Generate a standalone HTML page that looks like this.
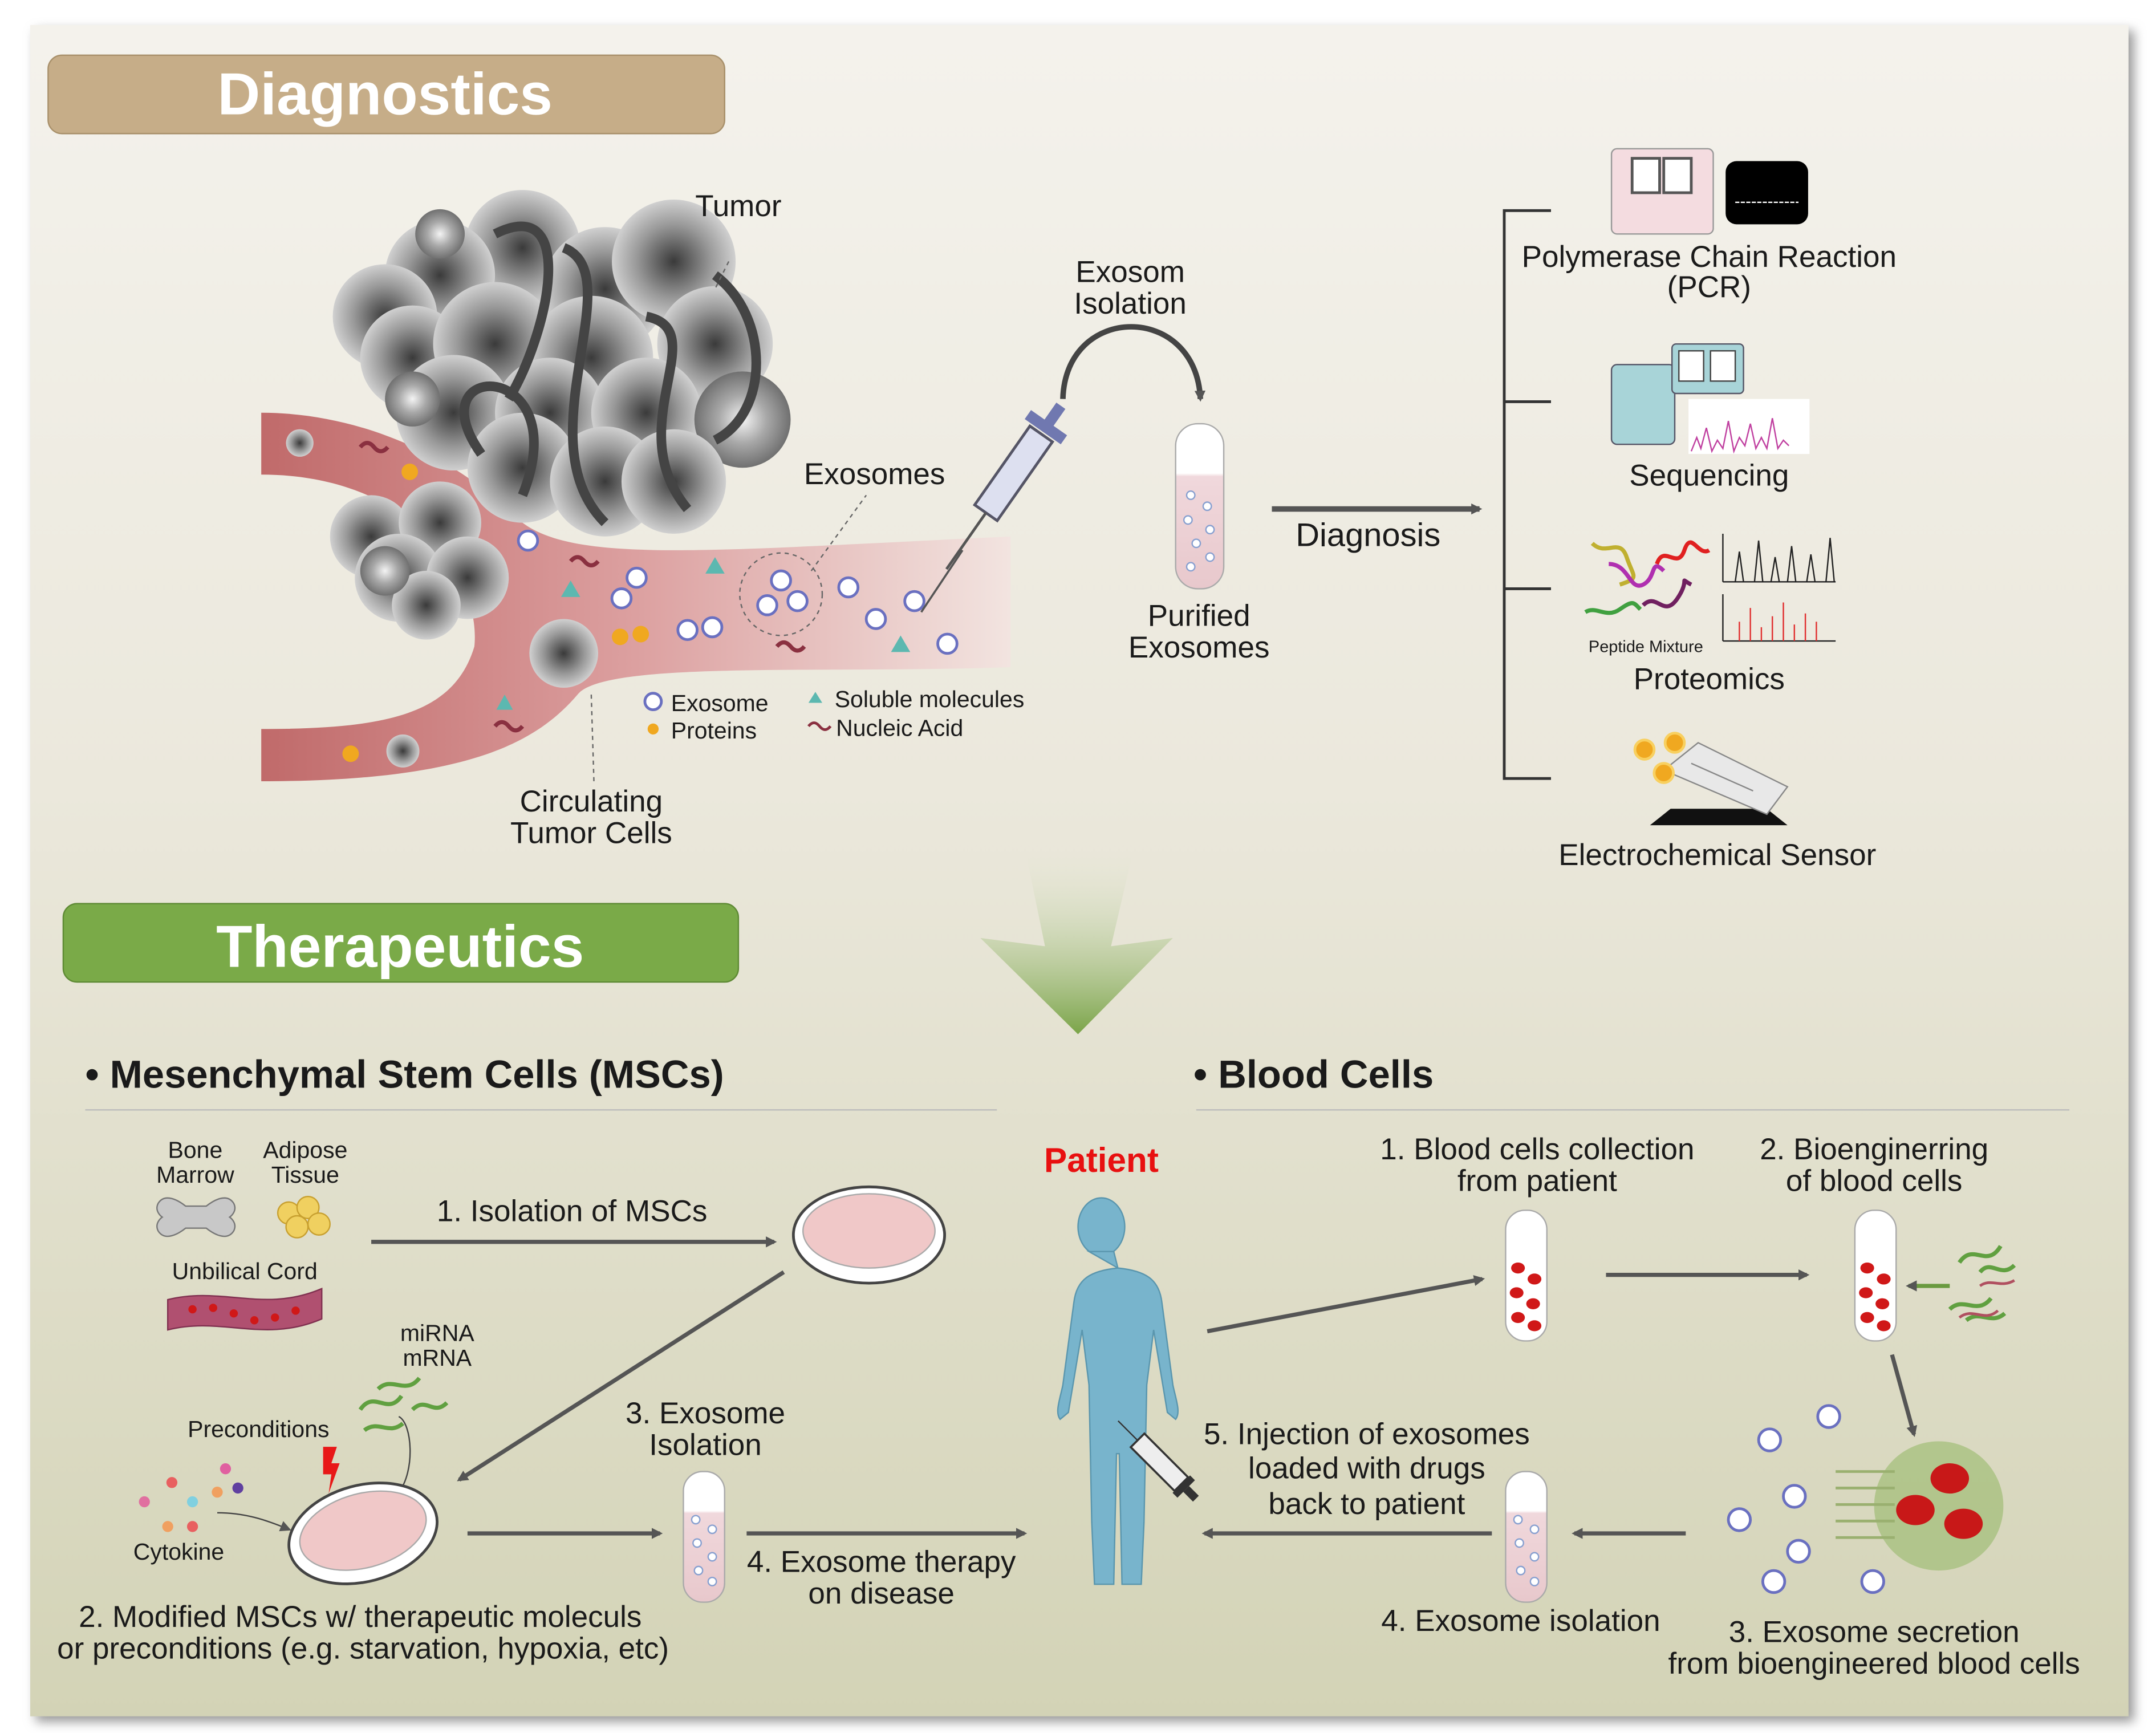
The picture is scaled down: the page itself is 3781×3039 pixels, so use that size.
<!DOCTYPE html>
<html><head><meta charset="utf-8"><style>
html,body{margin:0;padding:0;background:#fff;}
svg{display:block;}
text{font-family:"Liberation Sans",Arial,sans-serif;fill:#1a1a1a;}
</style></head><body>
<svg xmlns="http://www.w3.org/2000/svg" width="3781" height="3039" viewBox="0 0 1568 1260">
<defs>
<linearGradient id="bg" x1="0" y1="0" x2="0" y2="1">
<stop offset="0" stop-color="#f4f2ec"/><stop offset="0.45" stop-color="#ebe8dc"/><stop offset="1" stop-color="#d3d3b6"/></linearGradient>
<radialGradient id="cell" cx="0.5" cy="0.5" r="0.5"><stop offset="0" stop-color="#3a3a3a"/><stop offset="0.6" stop-color="#999"/><stop offset="1" stop-color="#d0d0d0"/></radialGradient>
<radialGradient id="cell2" cx="0.5" cy="0.5" r="0.5"><stop offset="0" stop-color="#f4f4f4"/><stop offset="0.5" stop-color="#a8a8a8"/><stop offset="1" stop-color="#707070"/></radialGradient>
<linearGradient id="vessel" x1="0" y1="0" x2="1" y2="0"><stop offset="0" stop-color="#c06a6a"/><stop offset="0.5" stop-color="#dca0a0"/><stop offset="1" stop-color="#f2e4e0"/></linearGradient>
<linearGradient id="garrow" x1="0" y1="0" x2="0" y2="1"><stop offset="0" stop-color="#e6ead8" stop-opacity="0"/><stop offset="1" stop-color="#7aa448"/></linearGradient>
<linearGradient id="tube" x1="0" y1="0" x2="0" y2="1"><stop offset="0" stop-color="#fff"/><stop offset="0.3" stop-color="#fff"/><stop offset="0.32" stop-color="#f0d8dc"/><stop offset="1" stop-color="#e8c8cc"/></linearGradient>
<marker id="ah" markerWidth="8" markerHeight="8" refX="6" refY="4" orient="auto" markerUnits="userSpaceOnUse"><path d="M0,0 L8,4 L0,8 z" fill="#555"/></marker>
<filter id="sh" x="-5%" y="-5%" width="110%" height="110%"><feGaussianBlur stdDeviation="4"/></filter>
</defs>
<rect x="0" y="0" width="1568" height="1260" fill="#fff"/>
<rect x="26" y="22" width="1526" height="1230" fill="#999" filter="url(#sh)"/>
<rect x="22" y="18" width="1526" height="1230" fill="url(#bg)"/>

<rect x="35" y="40" width="492" height="57" rx="10" fill="#c6ad88" stroke="#a8906a"/>
<text x="280" y="83" font-size="43" font-weight="bold" text-anchor="middle" style="fill:#fff">Diagnostics</text>
<rect x="46" y="657" width="491" height="57" rx="10" fill="#7aaa48" stroke="#5e8a34"/>
<text x="291" y="703" font-size="43" font-weight="bold" text-anchor="middle" style="fill:#fff">Therapeutics</text>

<path d="M190,300 C260,300 330,330 380,380 C420,410 520,400 735,390 L735,485 C600,490 440,480 420,505 C390,540 340,568 190,568 L190,530 C280,530 330,520 345,470 C350,420 300,345 190,345 Z" fill="url(#vessel)"/>
<g>
<circle cx="380" cy="180" r="42" fill="url(#cell)"/><circle cx="320" cy="200" r="40" fill="url(#cell)"/><circle cx="280" cy="230" r="38" fill="url(#cell)"/>
<circle cx="440" cy="210" r="45" fill="url(#cell)"/><circle cx="490" cy="190" r="45" fill="url(#cell)"/><circle cx="520" cy="250" r="42" fill="url(#cell)"/>
<circle cx="300" cy="260" r="38" fill="url(#cell)"/><circle cx="360" cy="250" r="45" fill="url(#cell)"/><circle cx="430" cy="260" r="45" fill="url(#cell)"/>
<circle cx="330" cy="300" r="42" fill="url(#cell)"/><circle cx="400" cy="300" r="40" fill="url(#cell)"/><circle cx="470" cy="300" r="40" fill="url(#cell)"/>
<circle cx="540" cy="305" r="35" fill="url(#cell2)"/><circle cx="380" cy="340" r="40" fill="url(#cell)"/><circle cx="440" cy="350" r="40" fill="url(#cell)"/>
<circle cx="490" cy="350" r="38" fill="url(#cell)"/><circle cx="320" cy="170" r="18" fill="url(#cell2)"/><circle cx="300" cy="290" r="20" fill="url(#cell2)"/>
<circle cx="270" cy="390" r="30" fill="url(#cell)"/><circle cx="320" cy="380" r="30" fill="url(#cell)"/><circle cx="290" cy="420" r="32" fill="url(#cell)"/>
<circle cx="340" cy="420" r="30" fill="url(#cell)"/><circle cx="310" cy="440" r="25" fill="url(#cell)"/><circle cx="280" cy="415" r="18" fill="url(#cell2)"/>
<path d="M360,170 C420,140 400,240 370,290 M410,180 C460,200 380,320 440,380 M470,230 C520,240 450,310 500,370 M520,200 C560,230 560,300 520,320 M350,330 C300,260 420,260 380,360" fill="none" stroke="#444" stroke-width="7"/>
<circle cx="410" cy="475" r="25" fill="url(#cell)"/><circle cx="218" cy="322" r="10" fill="url(#cell)"/><circle cx="293" cy="546" r="12" fill="url(#cell)"/>
</g>
<g fill="#f0a820"><circle cx="298" cy="343" r="6"/><circle cx="451" cy="463" r="6"/><circle cx="466" cy="461" r="6"/><circle cx="255" cy="548" r="6"/></g>
<g fill="#5cb8b0"><path d="M520,405 l7,12 h-14z"/><path d="M415,422 l7,12 h-14z"/><path d="M655,462 l7,12 h-14z"/><path d="M367,505 l6,11 h-12z"/></g>
<g fill="none" stroke="#8a3040" stroke-width="3"><path d="M262,325 q5,-6 10,0 t10,0"/><path d="M415,408 q5,-6 10,0 t10,0"/><path d="M565,470 q5,-6 10,0 t10,0"/><path d="M360,528 q5,-6 10,0 t10,0"/></g>
<g fill="#fff" stroke="#6a70c0" stroke-width="2"><circle cx="384" cy="393" r="7"/><circle cx="463" cy="420" r="7"/><circle cx="452" cy="435" r="7"/><circle cx="500" cy="458" r="7"/><circle cx="518" cy="456" r="7"/><circle cx="568" cy="422" r="7"/><circle cx="558" cy="440" r="7"/><circle cx="580" cy="437" r="7"/><circle cx="617" cy="427" r="7"/><circle cx="637" cy="450" r="7"/><circle cx="665" cy="437" r="7"/><circle cx="689" cy="468" r="7"/></g>
<circle cx="568" cy="432" r="30" fill="none" stroke="#666" stroke-dasharray="3,3"/>
<path d="M590,415 L630,360 M530,190 L520,210 M430,505 L432,570" stroke="#666" stroke-dasharray="3,3" fill="none"/>
<text x="537" y="157" font-size="22" text-anchor="middle">Tumor</text>
<text x="636" y="352" font-size="22" text-anchor="middle">Exosomes</text>
<text x="430" y="590" font-size="22" text-anchor="middle">Circulating</text>
<text x="430" y="613" font-size="22" text-anchor="middle">Tumor Cells</text>
<circle cx="475" cy="510" r="6" fill="#fff" stroke="#6a70c0" stroke-width="2"/>
<text x="488" y="517" font-size="17">Exosome</text>
<circle cx="475" cy="530" r="4" fill="#f0a820"/><text x="488" y="537" font-size="17">Proteins</text>
<path d="M593,503 l5,8 h-10z" fill="#5cb8b0"/><text x="607" y="514" font-size="17">Soluble molecules</text>
<path d="M588,528 q4,-5 8,0 t8,0" stroke="#8a3040" stroke-width="2" fill="none"/><text x="608" y="535" font-size="17">Nucleic Acid</text>
<g transform="rotate(35 740 340)"><rect x="730" y="310" width="20" height="70" fill="#dde0f0" stroke="#556" stroke-width="2"/><rect x="724" y="300" width="32" height="8" fill="#7078b0"/><rect x="736" y="285" width="8" height="18" fill="#7078b0"/><line x1="740" y1="380" x2="740" y2="430" stroke="#555" stroke-width="2"/></g>
<path d="M670,445 L700,400" stroke="#555" stroke-width="1.5"/>
<path d="M773,290 C775,220 870,220 873,290" fill="none" stroke="#444" stroke-width="4" marker-end="url(#ah)"/>
<text x="822" y="205" font-size="22" text-anchor="middle">Exosom</text>
<text x="822" y="228" font-size="22" text-anchor="middle">Isolation</text>
<rect x="855" y="308" width="35" height="120" rx="16" fill="url(#tube)" stroke="#aaa"/>
<g fill="#fff" stroke="#88a0d0"><circle cx="866" cy="360" r="3"/><circle cx="878" cy="368" r="3"/><circle cx="864" cy="378" r="3"/><circle cx="880" cy="385" r="3"/><circle cx="870" cy="395" r="3"/><circle cx="880" cy="405" r="3"/><circle cx="866" cy="412" r="3"/></g>
<text x="872" y="455" font-size="22" text-anchor="middle">Purified</text>
<text x="872" y="478" font-size="22" text-anchor="middle">Exosomes</text>
<line x1="925" y1="370" x2="1076" y2="370" stroke="#555" stroke-width="4" marker-end="url(#ah)"/>
<text x="995" y="397" font-size="24" text-anchor="middle">Diagnosis</text>
<path d="M1128,153 H1094 V566 H1128 M1094,292 H1128 M1094,428 H1128" fill="none" stroke="#333" stroke-width="2"/>
<rect x="1172" y="108" width="74" height="62" rx="4" fill="#f4dce0" stroke="#999"/><rect x="1187" y="115" width="20" height="25" fill="#fff" stroke="#555" stroke-width="2"/><rect x="1210" y="115" width="20" height="25" fill="#fff" stroke="#555" stroke-width="2"/>
<rect x="1255" y="117" width="60" height="46" rx="8" fill="#000"/><line x1="1262" y1="147" x2="1308" y2="147" stroke="#fff" stroke-dasharray="3,1"/>
<text x="1243" y="194" font-size="22" text-anchor="middle">Polymerase Chain Reaction</text>
<text x="1243" y="216" font-size="22" text-anchor="middle">(PCR)</text>
<rect x="1172" y="265" width="46" height="58" rx="4" fill="#a8d4d8" stroke="#556"/><rect x="1216" y="250" width="52" height="36" rx="3" fill="#a8d4d8" stroke="#556"/><rect x="1221" y="255" width="18" height="22" fill="#fff" stroke="#444"/><rect x="1244" y="255" width="18" height="22" fill="#fff" stroke="#444"/>
<rect x="1228" y="290" width="88" height="40" fill="#fff"/><path d="M1230,328 l4,-10 l3,8 l4,-15 l4,17 l4,-8 l4,6 l4,-20 l4,22 l4,-10 l4,6 l4,-16 l4,18 l4,-8 l4,8 l4,-22 l4,22 l4,-6 l4,4" stroke="#c040a0" fill="none" stroke-width="1"/>
<text x="1243" y="353" font-size="22" text-anchor="middle">Sequencing</text>
<path d="M1158,395 c10,10 20,-5 25,10 s10,15 -5,20" stroke="#c0b030" stroke-width="3" fill="none"/><path d="M1170,410 c15,0 15,20 25,15 s5,-20 15,-10" stroke="#b030b0" stroke-width="3" fill="none"/><path d="M1205,410 c5,-15 15,5 20,-10 s10,5 18,0" stroke="#e02020" stroke-width="3" fill="none"/><path d="M1195,440 c10,-10 15,10 25,-5 s0,-15 10,-10" stroke="#702060" stroke-width="3" fill="none"/><path d="M1153,445 c8,-5 15,5 25,-2 s10,-5 15,0" stroke="#40a040" stroke-width="3" fill="none"/>
<text x="1197" y="474" font-size="12" text-anchor="middle">Peptide Mixture</text>
<path d="M1253,423 H1335 M1253,423 V388" stroke="#222" fill="none"/><path d="M1262,423 l3,-22 l3,22 m8,0 l3,-30 l3,30 m6,0 l3,-18 l3,18 m6,0 l3,-26 l3,26 m8,0 l3,-20 l3,20 m8,0 l3,-32 l3,32" stroke="#222" fill="none"/>
<path d="M1253,466 H1335 M1253,466 V432" stroke="#222" fill="none"/><path d="M1265,466 v-14 m8,14 v-24 m8,24 v-10 m8,10 v-18 m8,18 v-28 m8,28 v-12 m8,12 v-20 m8,20 v-14" stroke="#e03030" fill="none"/>
<text x="1243" y="501" font-size="22" text-anchor="middle">Proteomics</text>
<path d="M1200,600 L1300,600 L1285,588 L1215,588 Z" fill="#111"/><path d="M1210,560 L1235,540 L1300,572 L1285,592 Z" fill="#e8e8e8" stroke="#888"/><line x1="1230" y1="555" x2="1275" y2="575" stroke="#888"/>
<g fill="#f0a820" stroke="#f8d060" stroke-width="2"><circle cx="1196" cy="545" r="7"/><circle cx="1218" cy="540" r="7"/><circle cx="1210" cy="562" r="7"/></g>
<text x="1249" y="629" font-size="22" text-anchor="middle">Electrochemical Sensor</text>

<path d="M745,615 L825,615 L808,688 L853,682 L784,752 L713,682 L760,688 Z" fill="url(#garrow)"/>

<text x="62" y="791" font-size="28.5" font-weight="bold">• Mesenchymal Stem Cells (MSCs)</text>
<line x1="62" y1="807" x2="725" y2="807" stroke="#bbb"/>
<text x="868" y="791" font-size="28.5" font-weight="bold">• Blood Cells</text>
<line x1="870" y1="807" x2="1505" y2="807" stroke="#bbb"/>

<text x="142" y="842" font-size="17" text-anchor="middle">Bone</text><text x="142" y="860" font-size="17" text-anchor="middle">Marrow</text>
<text x="222" y="842" font-size="17" text-anchor="middle">Adipose</text><text x="222" y="860" font-size="17" text-anchor="middle">Tissue</text>
<path d="M115,875 c5,-8 15,-2 20,2 h15 c5,-4 15,-10 20,-2 c3,6 -3,10 -3,10 c0,0 6,4 3,10 c-5,8 -15,2 -20,-2 h-15 c-5,4 -15,10 -20,2 c-3,-6 3,-10 3,-10 c0,0 -6,-4 -3,-10z" fill="#c8c8c8" stroke="#777"/>
<g fill="#f0d060" stroke="#c8a030"><circle cx="210" cy="882" r="8"/><circle cx="224" cy="878" r="8"/><circle cx="216" cy="892" r="8"/><circle cx="232" cy="890" r="8"/></g>
<text x="178" y="930" font-size="17" text-anchor="middle">Unbilical Cord</text>
<path d="M122,945 c40,-10 70,10 112,-8 v22 c-42,18 -72,-2 -112,8z" fill="#b05070" stroke="#803050"/>
<g fill="#d01818"><circle cx="140" cy="952" r="3"/><circle cx="155" cy="951" r="3"/><circle cx="170" cy="955" r="3"/><circle cx="185" cy="960" r="3"/><circle cx="200" cy="958" r="3"/><circle cx="215" cy="953" r="3"/></g>
<line x1="270" y1="903" x2="563" y2="903" stroke="#555" stroke-width="3" marker-end="url(#ah)"/>
<text x="416" y="888" font-size="22" text-anchor="middle">1. Isolation of MSCs</text>
<ellipse cx="632" cy="898" rx="55" ry="35" fill="#fff" stroke="#444" stroke-width="2"/><ellipse cx="632" cy="895" rx="48" ry="27" fill="#f0c8c8" stroke="#aaa"/>
<line x1="570" y1="925" x2="334" y2="1076" stroke="#555" stroke-width="3" marker-end="url(#ah)"/>
<text x="318" y="975" font-size="17" text-anchor="middle">miRNA</text><text x="318" y="993" font-size="17" text-anchor="middle">mRNA</text>
<path d="M262,1025 c10,-15 20,5 30,-10 M275,1010 c10,-10 20,5 30,-8 M300,1025 c10,-10 15,5 25,-5 M265,1040 c10,-8 18,4 28,-5" stroke="#60a040" stroke-width="3" fill="none"/>
<path d="M290,1030 c10,5 12,40 0,55" fill="none" stroke="#444"/>
<text x="188" y="1045" font-size="17" text-anchor="middle">Preconditions</text>
<path d="M235,1052 l10,0 l-4,12 l6,0 l-8,22 l2,-14 l-6,0z" fill="#e81818"/>
<g><circle cx="105" cy="1092" r="4" fill="#e070a0"/><circle cx="125" cy="1078" r="4" fill="#e86060"/><circle cx="140" cy="1092" r="4" fill="#80d0e0"/><circle cx="158" cy="1085" r="4" fill="#f0a060"/><circle cx="164" cy="1068" r="4" fill="#e060a0"/><circle cx="173" cy="1082" r="4" fill="#6040a0"/><circle cx="122" cy="1110" r="4" fill="#f0a060"/><circle cx="140" cy="1110" r="4" fill="#e86060"/></g>
<text x="130" y="1134" font-size="17" text-anchor="middle">Cytokine</text>
<path d="M158,1100 c20,0 35,5 52,12" fill="none" stroke="#444" marker-end="url(#ah)"/>
<ellipse cx="264" cy="1115" rx="55" ry="35" transform="rotate(-15 264 1115)" fill="#fff" stroke="#444" stroke-width="2"/><ellipse cx="264" cy="1113" rx="47" ry="27" transform="rotate(-15 264 1113)" fill="#f0c8c8" stroke="#aaa"/>
<text x="262" y="1183" font-size="22" text-anchor="middle">2. Modified MSCs w/ therapeutic moleculs</text>
<text x="264" y="1206" font-size="22" text-anchor="middle">or preconditions (e.g. starvation, hypoxia, etc)</text>
<line x1="340" y1="1115" x2="480" y2="1115" stroke="#555" stroke-width="3" marker-end="url(#ah)"/>
<text x="513" y="1035" font-size="22" text-anchor="middle">3. Exosome</text><text x="513" y="1058" font-size="22" text-anchor="middle">Isolation</text>
<rect x="497" y="1070" width="30" height="95" rx="14" fill="url(#tube)" stroke="#aaa"/>
<g fill="#fff" stroke="#88a0d0"><circle cx="506" cy="1105" r="3"/><circle cx="518" cy="1112" r="3"/><circle cx="507" cy="1122" r="3"/><circle cx="518" cy="1132" r="3"/><circle cx="508" cy="1142" r="3"/><circle cx="518" cy="1150" r="3"/></g>
<line x1="543" y1="1115" x2="745" y2="1115" stroke="#555" stroke-width="3" marker-end="url(#ah)"/>
<text x="641" y="1143" font-size="22" text-anchor="middle">4. Exosome therapy</text><text x="641" y="1166" font-size="22" text-anchor="middle">on disease</text>

<text x="801" y="852" font-size="25" font-weight="bold" text-anchor="middle" style="fill:#e81010">Patient</text>
<g fill="#78b4cc" stroke="#5a96ae">
<ellipse cx="801" cy="892" rx="17" ry="21"/>
<path d="M792,910 h18 l3,12 c20,2 30,8 32,25 l8,60 c2,10 6,20 2,25 l-6,-5 l-10,-60 l-5,40 l-2,100 l-2,45 h-14 l-2,-95 h-2 l-2,95 h-14 l-2,-45 l-2,-100 l-5,-40 l-10,60 l-6,5 c-4,-5 0,-15 2,-25 l8,-60 c2,-17 12,-23 32,-25z"/>
</g>
<g transform="rotate(-45 845 1065)"><rect x="838" y="1040" width="14" height="45" fill="#eee" stroke="#333" stroke-width="1.5"/><rect x="836" y="1085" width="18" height="5" fill="#333"/><rect x="842" y="1090" width="6" height="10" fill="#333"/><line x1="845" y1="1040" x2="845" y2="1020" stroke="#333"/></g>

<text x="1118" y="843" font-size="22" text-anchor="middle">1. Blood cells collection</text><text x="1118" y="866" font-size="22" text-anchor="middle">from patient</text>
<text x="1363" y="843" font-size="22" text-anchor="middle">2. Bioenginerring</text><text x="1363" y="866" font-size="22" text-anchor="middle">of blood cells</text>
<line x1="878" y1="968" x2="1078" y2="930" stroke="#555" stroke-width="3" marker-end="url(#ah)"/>
<rect x="1095" y="880" width="30" height="95" rx="14" fill="#fff" stroke="#aaa"/>
<g fill="#d01818"><ellipse cx="1104" cy="922" rx="5" ry="4"/><ellipse cx="1116" cy="930" rx="5" ry="4"/><ellipse cx="1103" cy="940" rx="5" ry="4"/><ellipse cx="1115" cy="948" rx="5" ry="4"/><ellipse cx="1104" cy="958" rx="5" ry="4"/><ellipse cx="1116" cy="964" rx="5" ry="4"/></g>
<line x1="1168" y1="927" x2="1314" y2="927" stroke="#555" stroke-width="3" marker-end="url(#ah)"/>
<rect x="1349" y="880" width="30" height="95" rx="14" fill="#fff" stroke="#aaa"/>
<g fill="#d01818"><ellipse cx="1358" cy="922" rx="5" ry="4"/><ellipse cx="1370" cy="930" rx="5" ry="4"/><ellipse cx="1357" cy="940" rx="5" ry="4"/><ellipse cx="1369" cy="948" rx="5" ry="4"/><ellipse cx="1358" cy="958" rx="5" ry="4"/><ellipse cx="1370" cy="964" rx="5" ry="4"/></g>
<line x1="1418" y1="935" x2="1388" y2="935" stroke="#6a9a40" stroke-width="3" marker-end="url(#ah)"/>
<path d="M1425,918 c10,-15 20,5 30,-12 M1440,925 c8,-10 15,5 25,-5 M1418,952 c10,-10 20,5 30,-8 M1430,960 c10,-8 18,4 28,-5" stroke="#60a040" stroke-width="3" fill="none"/>
<path d="M1425,958 c10,-8 18,4 28,-5 M1440,935 c8,-6 15,2 25,-4" stroke="#b05060" stroke-width="2" fill="none"/>
<line x1="1376" y1="985" x2="1392" y2="1043" stroke="#555" stroke-width="3" marker-end="url(#ah)"/>
<circle cx="1410" cy="1095" r="47" fill="#a8c080" opacity="0.8"/>
<g fill="#c81818"><ellipse cx="1418" cy="1075" rx="14" ry="11"/><ellipse cx="1393" cy="1098" rx="14" ry="11"/><ellipse cx="1428" cy="1108" rx="14" ry="11"/></g>
<g stroke="#9ab070" stroke-width="2"><line x1="1378" y1="1070" x2="1335" y2="1070"/><line x1="1378" y1="1082" x2="1335" y2="1082"/><line x1="1378" y1="1094" x2="1335" y2="1094"/><line x1="1378" y1="1106" x2="1335" y2="1106"/><line x1="1378" y1="1118" x2="1335" y2="1118"/></g>
<g fill="#fff" stroke="#6a70c0" stroke-width="2"><circle cx="1287" cy="1047" r="8"/><circle cx="1330" cy="1030" r="8"/><circle cx="1305" cy="1088" r="8"/><circle cx="1265" cy="1105" r="8"/><circle cx="1308" cy="1128" r="8"/><circle cx="1290" cy="1150" r="8"/><circle cx="1362" cy="1150" r="8"/></g>
<line x1="1226" y1="1115" x2="1145" y2="1115" stroke="#555" stroke-width="3" marker-end="url(#ah)"/>
<rect x="1095" y="1070" width="30" height="95" rx="14" fill="url(#tube)" stroke="#aaa"/>
<g fill="#fff" stroke="#88a0d0"><circle cx="1104" cy="1105" r="3"/><circle cx="1116" cy="1112" r="3"/><circle cx="1105" cy="1122" r="3"/><circle cx="1116" cy="1132" r="3"/><circle cx="1106" cy="1142" r="3"/><circle cx="1116" cy="1150" r="3"/></g>
<line x1="1085" y1="1115" x2="876" y2="1115" stroke="#555" stroke-width="3" marker-end="url(#ah)"/>
<text x="994" y="1050" font-size="22" text-anchor="middle">5. Injection of exosomes</text>
<text x="994" y="1075" font-size="22" text-anchor="middle">loaded with drugs</text>
<text x="994" y="1101" font-size="22" text-anchor="middle">back to patient</text>
<text x="1106" y="1186" font-size="22" text-anchor="middle">4. Exosome isolation</text>
<text x="1363" y="1194" font-size="22" text-anchor="middle">3. Exosome secretion</text>
<text x="1363" y="1217" font-size="22" text-anchor="middle">from bioengineered blood cells</text>
</svg>
</body></html>
